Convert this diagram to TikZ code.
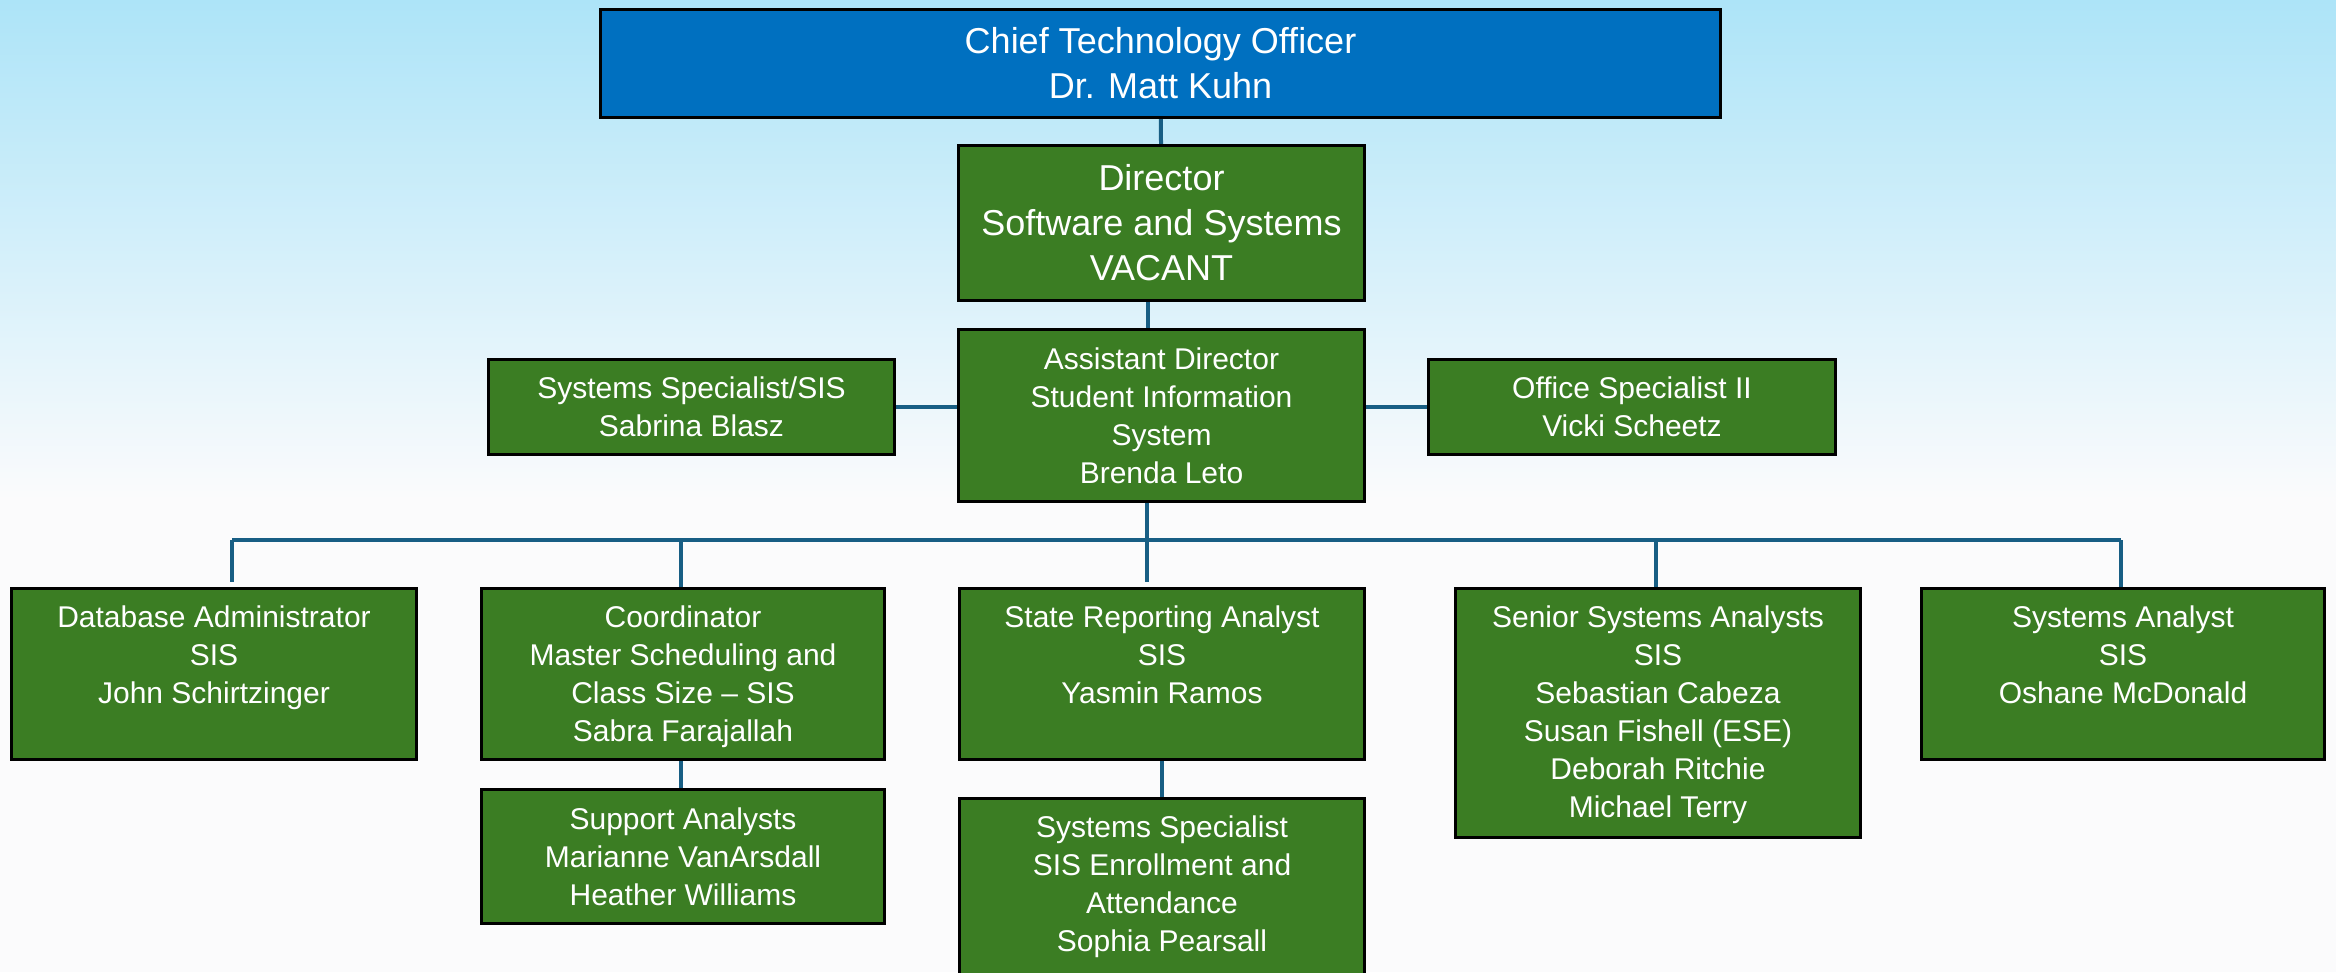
\documentclass[tikz,border=0pt]{standalone}
\usepackage{fontspec}
\setmainfont{Liberation Sans}
\usetikzlibrary{calc}
\definecolor{ctoblue}{HTML}{0070C0}
\definecolor{boxgreen}{HTML}{3B7D23}
\definecolor{conncol}{HTML}{185E84}
\definecolor{skytop}{HTML}{ADE4F8}
\definecolor{paper}{HTML}{FBFBFC}
\pgfdeclarelayer{bg}
\pgfdeclarelayer{links}
\pgfsetlayers{bg,links,main}
\begin{document}
\begin{tikzpicture}[x=1pt,y=-1pt,
  box/.style={draw=black, line width=3pt, fill=boxgreen, text=white, align=center,
    inner sep=0pt, font=\fontsize{30}{38}\selectfont},
  bigbox/.style={box, font=\fontsize{36}{45}\selectfont},
  txt/.style={text=white, align=center, inner sep=0pt, font=\fontsize{30}{38}\selectfont},
  conn/.style={draw=conncol, line width=4pt}]
\useasboundingbox (0,0) rectangle (2336,972);
\begin{pgfonlayer}{bg}
  \fill[paper] (0,0) rectangle (2336,972);
  \fill[top color=skytop, bottom color=paper] (0,0) rectangle (2336,500);
\end{pgfonlayer}

% top chain
\node[bigbox, fill=ctoblue, minimum width=1120, minimum height=108] (cto) at (1160.5,63.5)
  {Chief Technology Officer\\Dr. Matt Kuhn};
\node[bigbox, minimum width=406, minimum height=155] (dir) at (1161.5,223)
  {Director\\Software and Systems\\VACANT};
\node[box, minimum width=406, minimum height=172] (ad) at (1161.5,415.5)
  {Assistant Director\\Student Information\\System\\Brenda Leto};
\node[box, minimum width=406, minimum height=95] (ssis) at (691.5,407)
  {Systems Specialist/SIS\\Sabrina Blasz};
\node[box, minimum width=407, minimum height=95] (office) at (1632,407)
  {Office Specialist II\\Vicki Scheetz};

% second row boxes
\node[box, minimum width=405, minimum height=171] (db) at (214,674) {};
\node[txt, anchor=north] (dbt) at ($(db.north)+(0,19)$)
  {Database Administrator\\SIS\\John Schirtzinger};
\node[box, minimum width=403, minimum height=171] (coord) at (683,674) {};
\node[txt, anchor=north] (coordt) at ($(coord.north)+(0,19)$)
  {Coordinator\\Master Scheduling and\\Class Size – SIS\\Sabra Farajallah};
\node[box, minimum width=405, minimum height=171] (sra) at (1162,674) {};
\node[txt, anchor=north] (srat) at ($(sra.north)+(0,19)$)
  {State Reporting Analyst\\SIS\\Yasmin Ramos};
\node[box, minimum width=405, minimum height=249] (senior) at (1658,713) {};
\node[txt, anchor=north] (seniort) at ($(senior.north)+(0,19)$)
  {Senior Systems Analysts\\SIS\\Sebastian Cabeza\\Susan Fishell (ESE)\\Deborah Ritchie\\Michael Terry};
\node[box, minimum width=403, minimum height=171] (sa) at (2123,674) {};
\node[txt, anchor=north] (sat) at ($(sa.north)+(0,19)$)
  {Systems Analyst\\SIS\\Oshane McDonald};

% third row
\node[box, minimum width=403, minimum height=134] (sup) at (683,856.5)
  {Support Analysts\\Marianne VanArsdall\\Heather Williams};
\node[box, minimum width=405, minimum height=200] (sysspec) at (1162,898) {};
\node[txt, anchor=north] (sysspect) at ($(sysspec.north)+(0,19)$)
  {Systems Specialist\\SIS Enrollment and\\Attendance\\Sophia Pearsall};

% connectors
\coordinate (busL) at (232,540);
\coordinate (busC) at (681,540);
\coordinate (busM) at (1147,540);
\coordinate (busS) at (1656,540);
\coordinate (busR) at (2121,540);
\coordinate (dbTop) at (232,582);
\coordinate (sraTop) at (1147,582);
\begin{pgfonlayer}{links}
  \draw[conn] (cto) -- (dir);
  \draw[conn] ([xshift=-13.5]dir.south) -- ([xshift=-13.5]ad.north);
  \draw[conn] ([xshift=-14.5]ad.south) -- (busM);
  \draw[conn] (ssis.east) -- (ssis.east -| ad.west);
  \draw[conn] (office.west) -- (office.west -| ad.east);
  \draw[conn] (busL) -- (busR);
  \draw[conn] (busL) -- (dbTop);
  \draw[conn] (busC) -- (busC |- coord.north);
  \draw[conn] (busM) -- (sraTop);
  \draw[conn] (busS) -- (busS |- senior.north);
  \draw[conn] (busR) -- (busR |- sa.north);
  \draw[conn] ([xshift=-2]coord.south) -- ([xshift=-2]sup.north);
  \draw[conn] (sra) -- (sysspec);
\end{pgfonlayer}
\end{tikzpicture}
\end{document}
